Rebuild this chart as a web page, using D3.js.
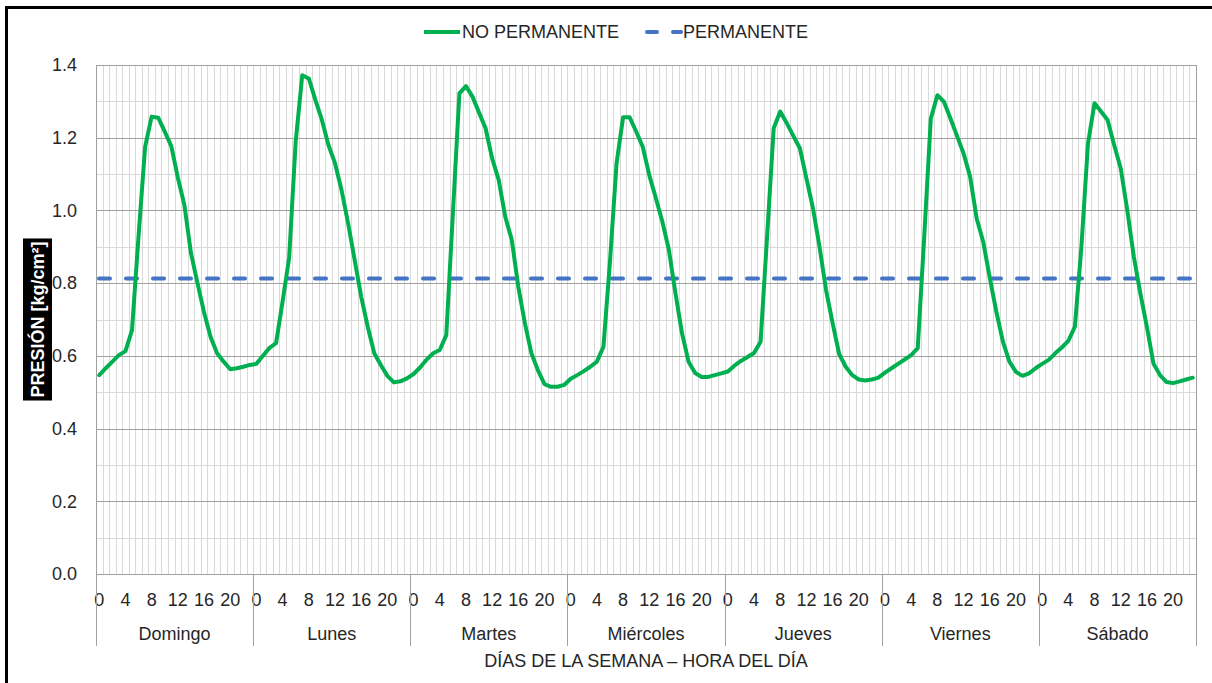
<!DOCTYPE html>
<html><head><meta charset="utf-8">
<script src="https://cdn.jsdelivr.net/npm/d3@7"></script>
<style>
html,body{margin:0;padding:0;background:#fff;}
svg{display:block;font-family:"Liberation Sans",Arial,sans-serif;}
</style></head>
<body><svg id="c" width="1212" height="683"></svg>
<script>
const days = ["Domingo","Lunes","Martes","Miércoles","Jueves","Viernes","Sábado"];
const hours = d3.range(24);
const hourTickLabels = [0,4,8,12,16,20];
const yTicks = [0,0.2,0.4,0.6,0.8,1.0,1.2,1.4];
const seriesNames = ["NO PERMANENTE","PERMANENTE"];
const domingo   = [0.547,0.566,0.584,0.602,0.613,0.671,0.930,1.175,1.258,1.255,1.217,1.177,1.090,1.015,0.883,0.800,0.720,0.652,0.607,0.584,0.563,0.566,0.570,0.575];
const lunes     = [0.578,0.600,0.622,0.635,0.750,0.870,1.190,1.372,1.363,1.304,1.249,1.180,1.130,1.056,0.965,0.864,0.763,0.680,0.607,0.575,0.545,0.527,0.530,0.538];
const martes    = [0.550,0.568,0.590,0.607,0.616,0.657,0.990,1.322,1.342,1.313,1.269,1.226,1.143,1.084,0.983,0.919,0.790,0.690,0.607,0.560,0.522,0.515,0.515,0.520];
const miercoles = [0.537,0.547,0.558,0.570,0.584,0.625,0.860,1.129,1.256,1.256,1.217,1.175,1.097,1.034,0.969,0.891,0.772,0.662,0.584,0.553,0.542,0.542,0.547,0.552];
const jueves    = [0.557,0.573,0.586,0.597,0.608,0.639,0.930,1.226,1.272,1.240,1.205,1.171,1.088,1.006,0.900,0.781,0.690,0.605,0.570,0.547,0.535,0.532,0.535,0.540];
const viernes   = [0.554,0.566,0.578,0.590,0.602,0.621,0.930,1.253,1.317,1.299,1.253,1.205,1.157,1.093,0.978,0.914,0.815,0.722,0.640,0.584,0.556,0.545,0.552,0.566];
const sabado    = [0.578,0.589,0.607,0.623,0.641,0.680,0.900,1.184,1.295,1.272,1.249,1.180,1.116,1.001,0.873,0.772,0.680,0.579,0.547,0.528,0.525,0.530,0.535,0.540];
const permanente = 0.813;

const noPermanente = [].concat(domingo,lunes,martes,miercoles,jueves,viernes,sabado);
const N = noPermanente.length;

const svg = d3.select("#c");
const L=96, R=1196, T=65, B=574;
const FONT = 18;
const textCol = "#262626";

const x = d3.scaleBand().domain(d3.range(N)).range([L,R]).padding(0);
const bw = x.bandwidth();
const cx = i => x(i) + bw/2;
const xDay = d3.scaleBand().domain(days).range([L,R]).padding(0);
const y = d3.scaleLinear().domain([0,1.4]).range([B,T]);

// outer frame
svg.append("rect").attr("x",6.5).attr("y",7.5).attr("width",1240).attr("height",720)
  .attr("fill","none").attr("stroke","#000").attr("stroke-width",3);

// vertical gridlines (category boundaries)
const g = svg.append("g");
g.selectAll("line.v").data(d3.range(N+1)).join("line")
  .attr("x1",i=>Math.round(L + i*bw)+0.5).attr("x2",i=>Math.round(L + i*bw)+0.5)
  .attr("y1",T).attr("y2",B).attr("stroke","#d9d9d9").attr("stroke-width",1);
// minor horizontal gridlines
const minor = d3.range(1,14,2).map(k=>k/10);
g.selectAll("line.hm").data(minor).join("line")
  .attr("x1",L).attr("x2",R).attr("y1",d=>Math.round(y(d))+0.5).attr("y2",d=>Math.round(y(d))+0.5)
  .attr("stroke","#d9d9d9").attr("stroke-width",1);
// major horizontal gridlines
g.selectAll("line.hM").data(yTicks).join("line")
  .attr("x1",L).attr("x2",R).attr("y1",d=>Math.round(y(d))+0.5).attr("y2",d=>Math.round(y(d))+0.5)
  .attr("stroke","#a0a0a0").attr("stroke-width",1);
// left & right plot edges
[L,R].forEach(xx=>{
  g.append("line").attr("x1",xx+0.5).attr("x2",xx+0.5).attr("y1",T).attr("y2",B).attr("stroke","#a0a0a0");
});

// y axis
const yAx = svg.append("g").attr("transform",`translate(${L},0)`)
  .call(d3.axisLeft(y).tickValues(yTicks).tickFormat(d3.format(".1f")).tickSize(0).tickPadding(19));
yAx.select(".domain").remove();
yAx.selectAll("text").attr("font-size",FONT).attr("fill",textCol).attr("font-family","Liberation Sans, Arial, sans-serif");

// x axis: hours
const hourIdx = d3.range(N).filter(i=>hourTickLabels.includes(hours[i%24]));
const xAx = svg.append("g").attr("transform",`translate(0,${B})`)
  .call(d3.axisBottom(x).tickValues(hourIdx).tickFormat(i=>hours[i%24]).tickSize(0).tickPadding(19));
xAx.select(".domain").remove();
xAx.selectAll("text").attr("font-size",FONT).attr("fill",textCol).attr("font-family","Liberation Sans, Arial, sans-serif");

// x axis: days
const dAx = svg.append("g").attr("transform",`translate(0,${B})`)
  .call(d3.axisBottom(xDay).tickSize(0).tickPadding(53));
dAx.select(".domain").remove();
dAx.selectAll("text").attr("font-size",FONT).attr("fill",textCol).attr("font-family","Liberation Sans, Arial, sans-serif");

// day separators
svg.append("g").selectAll("line").data(d3.range(days.length+1)).join("line")
  .attr("x1",k=>Math.round(L + k*xDay.bandwidth())+0.5).attr("x2",k=>Math.round(L + k*xDay.bandwidth())+0.5)
  .attr("y1",B).attr("y2",646).attr("stroke","#a0a0a0");
// bottom axis line
svg.append("line").attr("x1",L).attr("x2",R).attr("y1",B+0.5).attr("y2",B+0.5).attr("stroke","#a0a0a0");

// x axis title
svg.append("text").attr("x",(L+R)/2).attr("y",667).attr("text-anchor","middle")
  .attr("font-size",FONT).attr("fill",textCol).text("DÍAS DE LA SEMANA – HORA DEL DÍA");

// y axis title with black box
const ytg = svg.append("g").attr("transform",`translate(37.5,${(T+B)/2}) rotate(-90)`);
const ytBox = ytg.append("rect").attr("fill","#000");
const ytText = ytg.append("text").attr("text-anchor","middle").attr("dy","0.35em")
  .attr("font-size",FONT).attr("font-weight","bold").attr("fill","#fff").text("PRESIÓN [kg/cm²]");
const bb = ytText.node().getBBox();
ytBox.attr("x",bb.x-3).attr("y",-14.5).attr("width",bb.width+6).attr("height",29);

// permanent line
svg.append("line").attr("x1",L+1).attr("x2",cx(N-1)).attr("y1",y(permanente)).attr("y2",y(permanente))
  .attr("stroke","#4472c4").attr("stroke-width",4).attr("stroke-dasharray","11,16").attr("stroke-linecap","round")
  .attr("transform","translate(2,0)");

// no permanente line
svg.append("path").datum(noPermanente)
  .attr("d",d3.line().x((d,i)=>cx(i)).y(d=>y(d)))
  .attr("fill","none").attr("stroke","#00b050").attr("stroke-width",4).attr("stroke-linejoin","round").attr("stroke-linecap","round");

// legend
const lg = svg.append("g");
lg.append("line").attr("x1",424).attr("x2",460).attr("y1",32).attr("y2",32).attr("stroke","#00b050").attr("stroke-width",4);
lg.append("text").attr("x",462).attr("y",38).attr("font-size",FONT).attr("fill",textCol).text(seriesNames[0]);
lg.append("line").attr("x1",647).attr("x2",681).attr("y1",32).attr("y2",32).attr("stroke","#4472c4").attr("stroke-width",4)
  .attr("stroke-dasharray","10,16").attr("stroke-linecap","round");
lg.append("text").attr("x",683).attr("y",38).attr("font-size",FONT).attr("fill",textCol).text(seriesNames[1]);
</script></body></html>
